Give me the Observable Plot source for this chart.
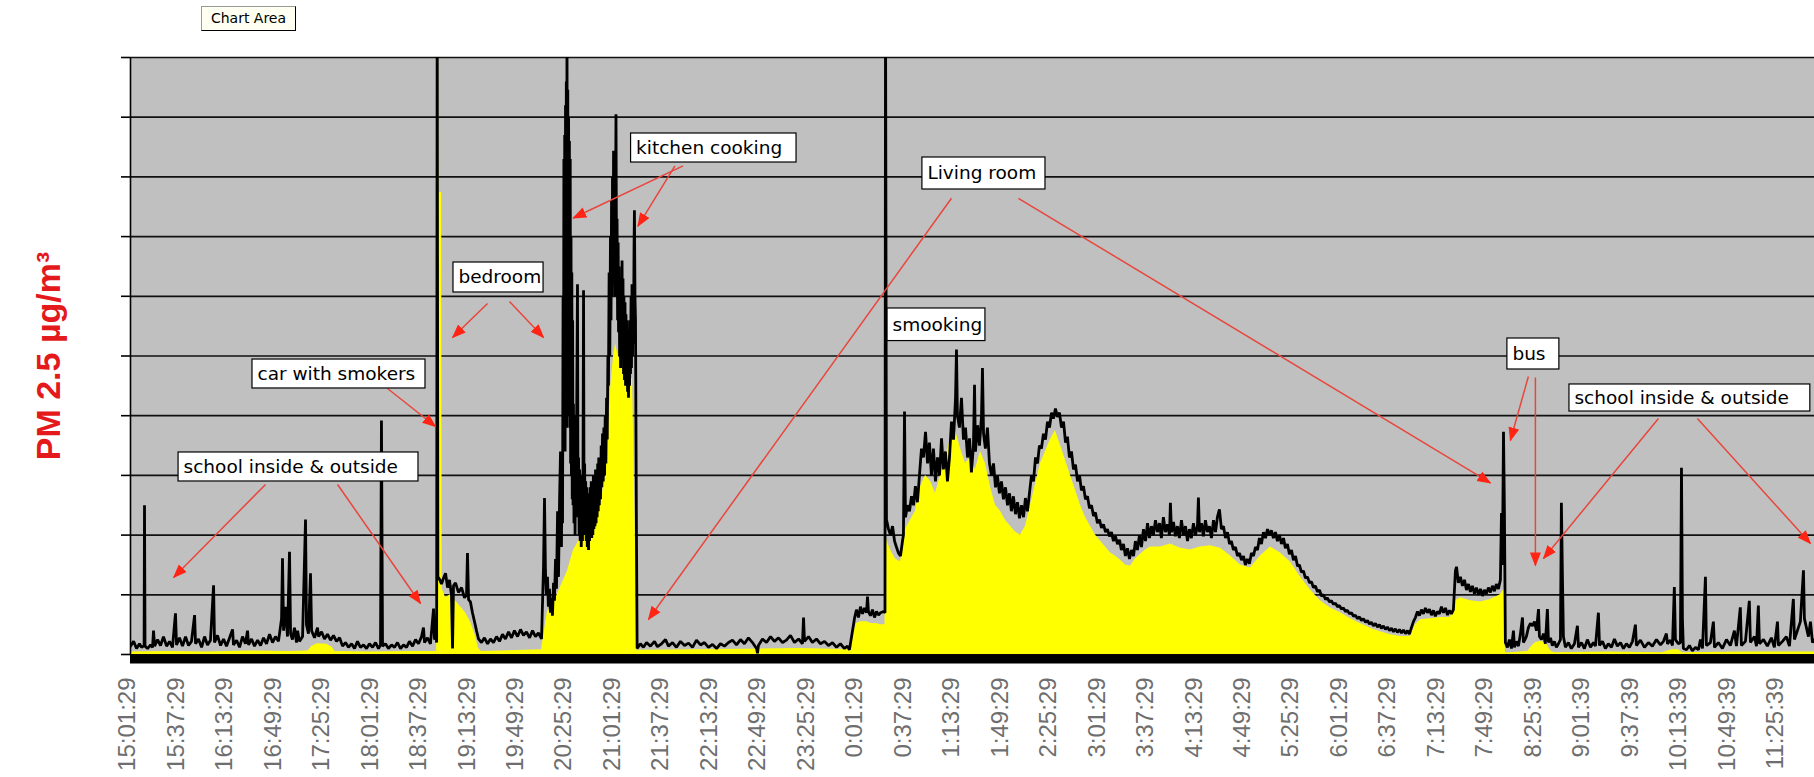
<!DOCTYPE html>
<html><head><meta charset="utf-8">
<script src="https://cdn.jsdelivr.net/npm/d3@7"></script>
<script src="https://cdn.jsdelivr.net/npm/@observablehq/plot@0.6"></script>
<style>
html,body{margin:0;padding:0;background:#fff;}
#wrap{position:relative;width:1814px;height:777px;overflow:hidden;}
#tip{position:absolute;left:201px;top:6px;width:95px;height:25px;box-sizing:border-box;border:1px solid #000;border-left-color:#999;border-top-color:#999;background:#fffff2;font:14px "DejaVu Sans";line-height:23px;text-align:center;color:#000;}
</style></head><body>
<div id="wrap"><div id="tip">Chart Area</div></div>
<script>
// x axis category labels (one every 36 minutes of samples)
const tickLabels = ["15:01:29","15:37:29","16:13:29","16:49:29","17:25:29","18:01:29","18:37:29","19:13:29","19:49:29","20:25:29","21:01:29","21:37:29","22:13:29","22:49:29","23:25:29","0:01:29","0:37:29","1:13:29","1:49:29","2:25:29","3:01:29","3:37:29","4:13:29","4:49:29","5:25:29","6:01:29","6:37:29","7:13:29","7:49:29","8:25:39","9:01:39","9:37:39","10:13:39","10:49:39","11:25:39"];
const tickStep = 36; // minutes between labels
const gridValues = [0,100,200,300,400,500,600,700,800,900,1000];

// black trace: [minutes since 15:01:29, PM2.5]
const rawTrace = [
[2.2,14],[4.5,22],[6.7,10],[8.9,18],[10.4,12],[12.3,15],[12.6,250],[13.0,14],[14.9,10],[17.1,16],[18.6,12],[19.3,40],[20.1,14],[22.3,25],[24.5,15],[26.7,30],[29.0,14],[31.2,22],[33.4,12],[35.6,69],[36.4,16],[38.6,28],[40.8,14],[43.1,30],[45.3,15],[47.5,22],[49.8,66],[50.5,18],[52.7,26],[55.0,12],[57.2,30],[59.4,16],[61.6,24],[63.9,116],[64.6,20],[66.8,32],[69.1,15],[71.3,26],[73.5,14],[75.8,28],[78.0,42],[78.7,16],[81.0,24],[83.2,12],[85.4,30],[87.6,18],[89.1,40],[89.9,16],[92.1,26],[94.3,14],[96.6,24],[98.8,15],[101.0,28],[103.2,18],[105.5,34],[107.7,20],[109.9,30],[112.1,22],[114.4,60],[115.1,161],[115.9,40],[117.3,80],[118.8,30],[120.3,172],[121.1,35],[122.5,25],[124.0,45],[125.5,20],[126.3,40],[127.7,22],[130.0,30],[132.2,226],[132.9,50],[134.4,35],[135.9,136],[136.7,40],[138.9,28],[141.1,45],[141.9,30],[144.1,38],[146.3,26],[148.5,34],[150.8,24],[153.0,32],[155.2,22],[157.5,28],[159.7,14],[161.9,20],[164.1,12],[166.4,18],[168.6,10],[170.8,22],[173.0,12],[175.3,16],[177.5,10],[179.7,18],[182.0,12],[184.2,20],[186.4,10],[187.9,16],[188.6,392],[189.4,14],[191.6,18],[193.8,10],[196.1,16],[198.3,12],[200.5,20],[202.8,10],[205.0,16],[207.2,12],[209.4,22],[211.7,14],[213.9,25],[216.1,18],[218.4,30],[219.8,45],[220.6,20],[222.8,28],[225.0,18],[227.3,77],[228.0,25],[229.0,30],[229.6,20],[230.0,1100],[230.5,130],
[232.0,125],[233.2,118],[234.7,128],[236.2,136],[237.7,112],[239.1,125],[240.6,100],[241.4,10],[242.1,115],[243.6,120],[245.8,104],[248.1,112],[250.3,95],[251.8,100],[252.5,170],[253.3,92],[254.7,88],[256.2,70],[257.7,55],[259.2,40],[260.7,26],[262.9,20],[265.1,28],[267.4,18],[269.6,26],[271.8,20],[274.1,30],[276.3,22],[278.5,34],[280.7,26],[283.0,38],[285.2,28],[287.4,40],[289.7,30],[291.9,42],[294.1,32],[296.3,38],[298.6,28],[300.8,40],[303.0,30],[305.2,36],[307.5,26],
[309.0,150],[309.7,262],[310.4,140],[311.1,100],[311.9,130],[312.6,80],[313.4,110],[314.1,70],[314.9,95],[315.6,65],[316.4,120],[317.1,90],[317.9,160],[318.6,110],[319.4,240],[320.1,130],[320.9,260],[321.6,340],[322.3,180],[322.7,330],[323.1,220],[323.5,600],[323.8,350],[324.1,830],[324.4,380],[324.7,870],[325.0,340],[325.3,920],[325.6,420],[325.9,960],[326.2,380],[326.4,1100],[326.7,450],[327.0,946],[327.3,400],[327.6,900],[327.9,420],[328.2,860],[328.5,380],[328.8,830],[329.1,320],[329.4,700],[329.7,300],[330.0,640],[330.3,260],[330.6,560],[330.9,250],[331.2,420],[331.6,220],[332.0,400],[332.4,200],[332.8,380],[333.1,230],[333.5,360],[334.2,620],[334.6,230],[335.0,330],[335.4,200],[335.8,310],[336.2,190],[336.6,300],[337.0,180],[337.4,280],[337.9,190],[338.3,300],[338.7,610],[339.1,220],[339.5,320],[339.9,200],[340.3,290],[340.7,190],[341.1,280],[341.5,180],[341.9,270],[342.4,175],[342.8,265],[343.2,190],[343.6,280],[344.0,200],[344.4,290],[344.8,195],[345.2,280],[345.6,200],[346.0,300],[346.4,210],[346.8,290],[347.2,215],[347.6,310],[348.0,220],[348.4,300],[348.8,230],[349.2,320],[349.6,240],[350.0,330],[350.4,250],[350.8,330],[351.3,260],[351.8,350],[352.3,280],[352.8,370],[353.3,290],[353.8,380],[354.3,300],[354.8,400],[355.3,320],[355.8,430],[356.3,360],[356.8,500],[357.2,450],[357.7,640],[358.2,500],[358.7,700],[359.1,560],[359.5,760],[359.9,600],[360.2,800],[360.6,620],[361.0,844],[361.4,640],[361.7,780],[362.1,600],[362.5,760],[362.8,905],[363.2,640],[363.6,730],[364.0,560],[364.4,690],[364.7,540],[365.1,650],[365.5,500],[365.9,630],[366.2,480],[366.6,620],[367.0,500],[367.3,660],[367.6,520],[368.0,630],[368.4,470],[368.7,600],[369.1,460],[369.5,590],[369.9,450],[370.2,570],[370.6,460],[371.0,560],[371.4,440],[371.8,540],[372.1,430],[372.5,530],[372.9,450],[373.2,560],[373.6,470],[374.0,600],[374.3,480],[374.7,620],[375.1,500],[375.5,580],[375.8,520],[376.2,680],[376.5,744],[376.9,600],[377.3,560],[377.6,400],[378.0,200],[378.5,10],
[381.0,18],[383.2,12],[385.5,20],[388.4,14],[391.4,22],[393.6,13],[396.6,18],[399.6,25],[401.8,14],[404.8,20],[407.7,12],[410.7,22],[413.7,15],[416.7,19],[419.6,12],[422.6,24],[425.6,16],[428.5,20],[431.5,12],[434.5,17],[437.5,10],[440.4,18],[443.4,14],[446.4,20],[449.3,24],[452.3,16],[455.3,25],[458.2,18],[461.2,28],[464.2,20],[467.2,10],[467.9,2],[468.6,15],[471.6,26],[474.6,20],[477.6,30],[480.5,22],[483.5,28],[486.5,20],[489.4,24],[492.4,32],[495.4,20],[498.4,26],[501.3,18],[502.1,62],[502.8,22],[505.8,30],[508.7,20],[511.7,26],[514.7,18],[517.7,22],[520.6,15],[523.6,20],[526.6,12],[529.5,18],[532.5,10],[534.7,14],[536.2,8],
[538.5,40],[539.9,60],[541.4,75],[542.9,62],[544.4,80],[545.9,68],[547.4,78],[548.9,70],[549.6,97],[550.3,72],[551.8,65],[553.3,75],[554.8,62],[556.3,72],[557.8,66],[559.3,70],[561.5,72],[562.6,70],
[563.0,1100],[563.7,226],[565.2,210],[566.7,200],[568.2,215],[569.7,190],[571.1,180],[572.6,170],[574.1,165],[575.6,190],[576.3,200],[577.1,407],[577.8,230],[579.3,250],[580.8,240],[582.3,265],[583.8,250],[585.2,282],[586.7,255],[588.2,300],[589.7,345],[591.2,330],[592.7,373],[594.2,320],[595.6,355],[597.1,300],[598.6,345],[600.1,290],[601.6,330],[603.1,300],[604.6,362],[606.0,310],[607.5,340],[609.0,290],[610.5,330],[612.0,390],[613.5,360],[615.0,430],[615.7,511],[616.4,400],[617.9,380],[619.4,430],[620.9,360],[622.4,380],[623.9,330],[625.4,362],[626.8,305],[628.3,350],[629.1,452],[629.8,340],[631.3,384],[632.8,350],[634.3,400],[635.0,480],[635.8,370],[637.2,345],[638.7,380],[640.2,320],[641.7,300],[643.2,320],[644.7,280],[646.1,300],[647.6,270],[649.1,290],[650.6,260],[652.1,280],[653.6,250],[655.1,270],[656.5,240],[658.0,265],[659.5,235],[661.0,255],[662.5,228],[664.0,250],[665.5,230],[666.9,262],[668.4,240],[669.9,270],[671.4,300],[672.9,290],[674.4,330],[675.9,320],[677.3,350],[678.8,345],[680.3,370],[681.8,360],[683.3,390],[684.8,380],[686.3,405],[687.7,395],[689.2,412],[690.7,398],[692.2,405],[693.7,380],[695.2,390],[696.7,355],[698.1,365],[699.6,330],[701.1,340],[702.6,310],[704.1,318],[705.6,290],[707.1,300],[708.5,275],[710.0,282],[711.5,260],[713.0,265],[714.5,245],[716.0,250],[717.5,232],[718.9,238],[720.4,220],[721.9,226],[723.4,212],[724.9,218],[726.4,205],[727.8,210],[729.3,198],[730.8,205],[732.3,190],[733.8,198],[735.3,185],[736.8,192],[738.2,175],[739.7,185],[741.2,165],[742.7,178],[744.2,160],[745.7,175],[747.2,165],[748.6,190],[750.1,175],[751.6,200],[753.1,180],[754.6,210],[756.1,190],[757.6,220],[759.0,195],[760.5,215],[762.0,200],[763.5,225],[765.0,205],[766.5,220],[767.9,195],[769.4,230],[770.9,205],[772.4,218],[773.9,200],[774.6,254],[775.4,205],[776.9,222],[778.3,198],[779.8,215],[781.3,195],[782.8,225],[784.3,200],[785.8,215],[787.3,190],[788.7,210],[790.2,195],[791.7,220],[793.2,200],[794.7,215],[795.4,263],[796.2,205],[797.7,220],[799.1,198],[800.6,225],[802.1,205],[803.6,215],[805.1,195],[806.6,225],[808.1,205],[809.5,230],[811.0,243],[812.5,210],[814.0,215],[815.5,195],[817.0,205],[818.5,185],[819.9,190],[821.4,175],[822.9,180],[824.4,165],[825.9,170],[827.4,158],[828.9,165],[830.3,150],[831.8,160],[833.3,152],[834.8,170],[836.3,165],[837.8,180],[839.3,175],[840.7,195],[842.2,185],[843.7,205],[845.2,195],[846.7,210],[848.2,200],[849.6,208],[851.1,195],[852.6,205],[854.1,190],[855.6,200],[857.1,185],[858.6,195],[860.0,178],[861.5,185],[863.0,168],[864.5,175],[866.0,158],[867.5,165],[869.0,148],[870.4,150],[871.9,138],[873.4,140],[874.9,128],[876.4,130],[877.9,120],[879.4,122],[880.8,112],[882.3,115],[883.8,105],[885.3,108],[886.8,98],[888.3,100],[889.8,92],[891.2,95],[892.7,88],[894.2,90],[895.7,84],[897.2,86],[898.7,80],[900.2,82],[901.6,76],[903.1,78],[904.6,72],[906.1,74],[907.6,68],[909.1,70],[910.6,64],[912.0,66],[913.5,60],[915.0,63],[916.5,57],[918.0,60],[919.5,54],[921.0,57],[922.4,51],[923.9,54],[925.4,48],[926.9,52],[928.4,46],[929.9,50],[931.3,44],[932.8,48],[934.3,42],[935.8,46],[937.3,40],[938.8,44],[940.3,38],[941.7,43],[943.2,37],[944.7,42],[946.2,36],[947.7,41],[949.2,35],[950.7,40],[952.1,34],[953.6,45],[955.1,55],[956.6,62],[958.1,72],[959.6,65],[961.0,75],[962.5,68],[964.0,78],[965.5,70],[967.0,76],[968.5,66],[970.0,74],[971.4,64],[972.9,72],[974.4,68],[975.9,80],[977.4,70],[978.9,78],[980.4,66],[981.8,74],[983.3,68],[984.8,75],[986.3,140],[987.1,147],[988.5,120],[990.0,130],[991.5,115],[993.0,125],[994.5,108],[996.0,118],[997.4,105],[998.9,115],[1000.4,102],[1001.9,112],[1003.4,100],[1004.9,110],[1006.4,98],[1007.8,108],[1009.3,102],[1010.8,112],[1012.3,104],[1013.8,115],[1015.3,106],[1016.7,118],[1018.2,110],[1019.7,125],[1020.5,237],[1021.2,150],[1022.0,373],[1022.7,237],[1023.4,20],
[1024.9,12],[1026.4,25],[1027.9,10],[1029.4,40],[1030.1,12],[1031.6,22],[1033.1,14],[1034.6,35],[1036.1,62],[1036.8,20],[1039.0,30],[1040.5,45],[1042.0,52],[1043.5,48],[1045.0,55],[1046.5,40],[1048.0,76],[1048.7,30],[1050.2,25],[1051.7,35],[1053.1,18],[1054.6,76],[1055.4,20],[1056.9,28],[1058.3,15],[1059.8,22],[1061.3,12],[1062.8,18],[1064.3,25],[1065.0,254],[1065.8,127],[1066.5,30],[1068.0,12],[1070.2,20],[1072.4,10],[1074.7,18],[1076.9,48],[1077.7,12],[1079.9,20],[1082.1,10],[1084.3,25],[1086.6,12],[1088.8,20],[1090.3,14],[1092.5,70],[1093.3,15],[1095.5,22],[1097.7,10],[1099.9,18],[1102.2,12],[1104.4,26],[1106.6,14],[1108.9,20],[1111.1,10],[1113.3,18],[1115.5,12],[1117.8,22],[1120.0,50],[1120.7,15],[1123.7,24],[1126.7,12],[1129.6,20],[1132.6,14],[1135.6,25],[1138.6,16],[1140.8,22],[1143.0,35],[1143.8,18],[1146.0,24],[1147.5,15],[1148.9,113],[1149.7,25],[1151.9,18],[1153.4,20],[1154.2,313],[1154.9,60],[1155.6,10],[1157.9,8],[1160.1,15],[1162.3,6],[1164.6,12],[1166.8,8],[1168.3,25],[1169.8,10],[1172.0,130],[1172.7,15],[1175.7,20],[1177.9,55],[1178.7,12],[1181.6,20],[1184.6,10],[1187.6,25],[1190.5,15],[1193.5,40],[1195.0,14],[1197.9,79],[1198.7,15],[1201.7,22],[1204.6,90],[1205.4,20],[1208.4,30],[1209.9,14],[1211.3,82],[1212.1,18],[1215.1,25],[1218.0,14],[1221.0,28],[1223.2,12],[1225.5,55],[1226.2,15],[1229.2,22],[1232.1,30],[1234.4,14],[1237.3,93],[1238.1,25],[1240.3,40],[1242.5,55],[1244.8,141],[1245.5,60],[1247.0,45],[1248.5,30],[1250.0,55],[1251.5,20],[1253.0,25]
];

// yellow area series: [minutes since 15:01:29, PM2.5]
const areaTrace = [
[2.2,4],[30,5],[60,4],[90,6],[120,5],[134,6],[137,14],[141,18],[148,17],[152,12],[154,5],[180,4],[210,5],[229.6,5],[230.0,1100],[230.9,1100],[231.3,774],[233.3,774],[233.7,110],
[236.2,95],[239.9,100],[243.6,90],[247.3,80],[251.0,70],[254.7,55],[258.5,30],[260.7,10],[262.9,5],[277.0,6],[307.5,8],
[309.0,30],[311.9,72],[316.4,85],[321.6,113],[326.8,140],[331.2,174],[336.4,195],[341.6,209],[346.1,223],[351.3,250],[355.0,300],[357.0,380],[359.0,450],[361.0,500],[362.5,520],[364.0,505],[366.2,490],[369.0,470],[371.4,462],[375.1,462],[377.3,182],[378.4,6],
[380,7],[420,8],[460,9],[500,10],[536.2,8],
[538.5,30],[541.4,52],[544.4,55],[548.9,55],[552.5,52],[556.3,52],[559.3,50],[562.6,50],
[563.3,195],[566.7,175],[570.4,160],[574.1,155],[577.8,210],[581.5,225],[585.2,240],[588.9,280],[592.7,300],[596.4,290],[600.1,270],[603.8,300],[607.5,330],[611.2,360],[615.0,375],[618.7,345],[622.4,320],[626.1,330],[629.8,310],[633.5,340],[637.2,320],[641.0,280],[644.7,250],[648.4,240],[652.1,225],[655.8,215],[659.5,205],[663.2,200],[667.0,215],[670.7,250],[674.4,285],[678.1,320],[681.8,340],[685.5,360],[689.2,375],[693.0,350],[696.7,325],[700.4,300],[704.1,275],[707.8,250],[711.5,230],[715.2,215],[718.9,200],[722.6,190],[726.4,180],[730.1,170],[733.8,165],[737.5,158],[741.2,150],[744.9,148],[748.6,160],[752.4,168],[756.1,175],[759.8,180],[767.2,180],[774.6,185],[782.1,178],[789.5,175],[796.9,180],[804.3,182],[811.8,178],[819.2,165],[826.6,150],[834.0,145],[841.5,165],[848.9,180],[856.3,170],[863.7,155],[871.2,130],[878.6,108],[886.0,90],[893.4,78],[900.9,70],[908.3,60],[915.7,52],[923.2,44],[930.6,38],[938.0,33],[945.4,30],[952.9,30],[956.6,50],[960.3,58],[967.7,60],[975.1,62],[982.6,62],[986.3,90],[990.0,95],[997.4,90],[1004.9,88],[1012.3,92],[1019.7,100],[1022.7,110],[1023.4,3],
[1028,3],[1040,5],[1043,14],[1046,20],[1050,22],[1054,18],[1057,6],[1060,3],[1100,4],[1140,3],[1147,8],[1152,8],[1155,3],[1200,4],[1253,4]
];

// annotation boxes (data units: minutes, PM2.5)
const noteLabels = ["school inside & outside","car with smokers","bedroom","kitchen cooking","Living room","smooking","bus","school inside & outside"];
const noteT1 = [37.9, 92.8, 242.1, 374.0, 590.4, 564.5, 1024.9, 1071.0];
const noteT2 = [216.1, 221.3, 309.0, 496.9, 681.8, 637.2, 1063.5, 1249.9];
const noteV1 = [289.8, 445.6, 606.4, 824.1, 778.9, 525.0, 477.4, 407.0];
const noteV2 = [338.4, 494.1, 656.6, 872.7, 832.5, 579.6, 529.3, 452.3];

// arrows: from (t1,v1) to (t2,v2)
const arrowT1 = [102.5, 156.0, 193.1, 267.4, 283.7, 412.6, 406.6, 612.0, 661.7, 1040.5, 1045.7, 1137.1, 1166.0];
const arrowV1 = [284.8, 284.8, 445.6, 587.9, 591.3, 818.4, 818.4, 764.2, 764.2, 465.7, 464.0, 395.3, 395.3];
const arrowT2 = [34.2, 217.6, 228.8, 241.4, 309.0, 331.0, 379.1, 386.9, 1012.3, 1027.1, 1045.7, 1051.7, 1250.0];
const arrowV2 = [129.0, 85.4, 381.9, 531.0, 531.0, 731.2, 717.6, 58.6, 287.4, 358.5, 149.1, 160.8, 185.9];

const raw = rawTrace.map(([t, v]) => ({t, v}));
const area = areaTrace.map(([t, v]) => ({t, v}));
const notes = noteLabels.map((label, i) => ({label, t1: noteT1[i], t2: noteT2[i], v1: noteV1[i], v2: noteV2[i]}));
const arrows = arrowT1.map((t1, i) => ({t1, v1: arrowV1[i], t2: arrowT2[i], v2: arrowV2[i]}));
const tickMinutes = tickLabels.map((d, i) => i * tickStep);

const chart = Plot.plot({
  width: 1814, height: 777,
  marginLeft: 130, marginRight: 0, marginTop: 57, marginBottom: 123,
  style: {background: "transparent", fontFamily: "'Liberation Sans', Arial, sans-serif", overflow: "visible"},
  x: {domain: [2.2, 1253]},
  y: {domain: [0, 1000]},
  marks: [
    Plot.frame({fill: "#c0c0c0", stroke: null}),
    Plot.ruleY(gridValues, {stroke: "#111", strokeWidth: 1.7}),
    Plot.areaY(area, {x: "t", y: "v", fill: "#ffff00", clip: true}),
    Plot.lineY(raw, {x: "t", y: "v", stroke: "#000", strokeWidth: 2.8, strokeLinejoin: "miter", clip: true}),
    Plot.ruleY([0], {stroke: "#000", strokeWidth: 9, dy: 4.5}),
    Plot.ruleX([2.2], {stroke: "#000", strokeWidth: 1.6}),
    Plot.axisY({ticks: gridValues, tickSize: 9, tickFormat: () => "", label: null, stroke: "#000", strokeWidth: 1.6}),
    Plot.axisX({ticks: tickMinutes, tickFormat: d => tickLabels[Math.round(d / tickStep)], tickRotate: -90, tickSize: 0, tickPadding: 23, fontSize: 24, fill: "#6e6e6e", label: null}),
    Plot.text(["PM 2.5 \u00b5g/m\u00b3"], {text: d => d, frameAnchor: "left", textAnchor: "middle", dx: -81, rotate: -90, fontSize: 34, fontWeight: "bold", fill: "#e3191c"}),
    Plot.link(arrows, {x1: "t1", y1: "v1", x2: "t2", y2: "v2", stroke: "#e8463c", strokeWidth: 1.5, markerEnd: "arrow"}),
    Plot.rect(notes, {x1: "t1", x2: "t2", y1: "v1", y2: "v2", fill: "#fff", stroke: "#000", strokeWidth: 1.2}),
    Plot.text(notes, {x: "t1", y: d => (d.v1 + d.v2) / 2, text: "label", dx: 5, textAnchor: "start", fontSize: 18.5, fontFamily: "DejaVu Sans", fill: "#000"})
  ]
});

// filled triangular arrow heads
chart.querySelectorAll("marker").forEach(m => {
  m.setAttribute("markerUnits", "userSpaceOnUse");
  m.setAttribute("viewBox", "-13 -6 15 12");
  m.setAttribute("markerWidth", "15");
  m.setAttribute("markerHeight", "12");
  m.setAttribute("refX", "0");
  m.setAttribute("refY", "0");
  m.innerHTML = '<path d="M-13,-5.5L1,0L-13,5.5Z" fill="#ff2414" stroke="none"></path>';
});

document.getElementById("wrap").appendChild(chart);
</script>
</body></html>
